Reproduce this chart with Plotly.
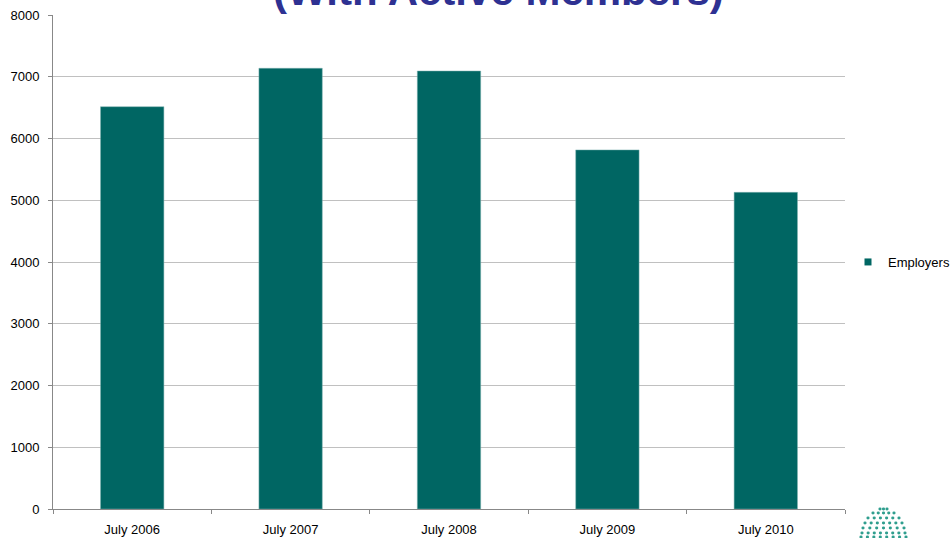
import plotly.graph_objects as go

categories = ["July 2006", "July 2007", "July 2008", "July 2009", "July 2010"]
employers = [6515, 7137, 7093, 5815, 5128]
series_name = "Employers"
y_ticks = [0, 1000, 2000, 3000, 4000, 5000, 6000, 7000, 8000]

BAR_COLOR = "#006663"
W, H = 951, 538
ML, MR, MT, MB = 53, 106, 15, 29
PW, PH = W - ML - MR, H - MT - MB


def px_x(px):
    return (px - ML) / PW


def px_y(py):
    return (H - MB - py) / PH


fig = go.Figure()
fig.add_trace(go.Bar(
    x=categories, y=employers, name=series_name,
    marker=dict(color=BAR_COLOR, line=dict(color="#7fb3b0", width=0.5)),
    showlegend=False,
))
# legend entry with a small square symbol
fig.add_trace(go.Scatter(
    x=[None], y=[None], mode="markers", name=series_name,
    marker=dict(symbol="square", size=7, color=BAR_COLOR),
    showlegend=True, hoverinfo="skip",
))

# decorative logo (dome of small dots) at bottom right
shapes = []
rows = [(509, 880, 887, 3), (513, 873, 894, 5), (518, 868, 899, 6),
        (523, 865, 902, 7), (528, 863, 904, 7), (533, 862, 905, 8), (537, 861, 906, 8)]
for py, x0, x1, n in rows:
    for i in range(n):
        cx = x0 + (x1 - x0) * i / max(n - 1, 1)
        shapes.append(dict(
            type="circle", xref="paper", yref="paper",
            x0=px_x(cx - 1.6), x1=px_x(cx + 1.6),
            y0=px_y(py + 1.4), y1=px_y(py - 1.4),
            fillcolor="#2f9e8e", line=dict(width=0), layer="above",
        ))

fig.update_layout(
    width=W, height=H,
    margin=dict(l=ML, r=MR, t=MT, b=MB, autoexpand=False),
    paper_bgcolor="white", plot_bgcolor="white",
    bargap=0.6,
    font=dict(family="Arial, Liberation Sans, sans-serif", size=13, color="#000000"),
    showlegend=True,
    legend=dict(x=px_x(848), y=0.5, xanchor="left", yanchor="middle",
                font=dict(size=13, color="#000000"), bgcolor="rgba(0,0,0,0)",
                itemwidth=30),
    shapes=shapes,
    annotations=[dict(
        text="<b>(With Active Members)</b>", xref="paper", yref="paper",
        x=0.562, y=0.998, xanchor="center", yanchor="bottom", showarrow=False,
        font=dict(family="Arial, Liberation Sans, sans-serif", size=42, color="#2E3192"),
    )],
)
fig.update_xaxes(
    showline=True, linecolor="#888888", linewidth=1,
    ticks="outside", tickson="boundaries", ticklen=4, tickcolor="#888888",
    showgrid=False, tickfont=dict(size=13), ticklabelstandoff=8, automargin=False,
)
fig.update_yaxes(
    range=[0, 8000], tickvals=y_ticks,
    showline=True, linecolor="#888888", linewidth=1,
    ticks="outside", ticklen=4, tickcolor="#888888",
    showgrid=True, gridcolor="#c0c0c0", gridwidth=1,
    zeroline=False, tickfont=dict(size=13), ticklabelstandoff=6, automargin=False,
)

fig.write_html("out.html", config={"displayModeBar": False},
               post_script="document.body.style.margin='0';")
